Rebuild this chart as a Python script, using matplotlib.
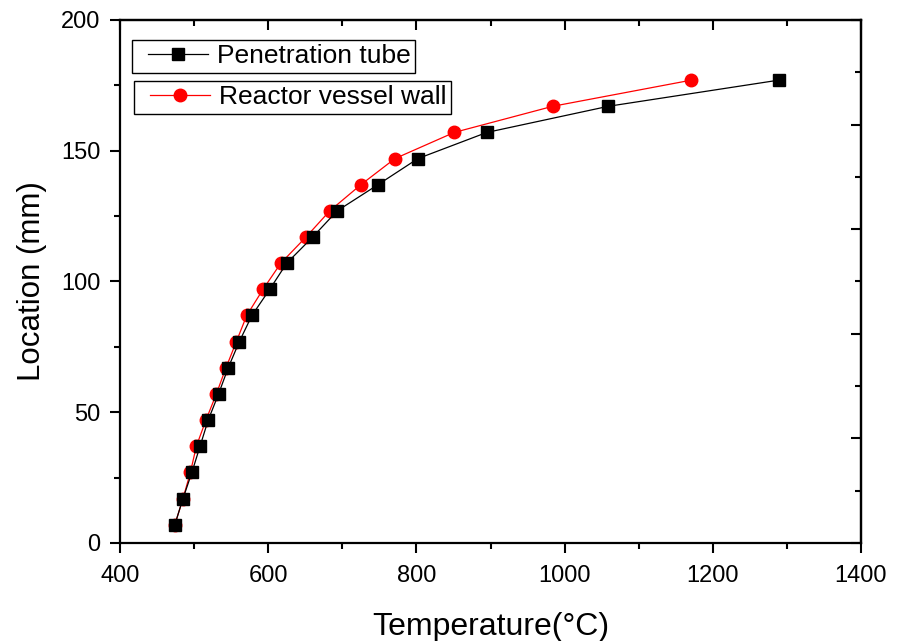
import numpy as np
import matplotlib.pyplot as plt
from matplotlib.ticker import MultipleLocator, NullFormatter
from matplotlib.legend_handler import HandlerLine2D

plt.rcParams['font.family'] = ['Liberation Sans', 'DejaVu Sans']

# location along the tube (mm)
location = [7, 17, 27, 37, 47, 57, 67, 77, 87, 97, 107, 117, 127, 137, 147, 157, 167, 177]
# temperatures (degC)
temp_tube = [474, 485, 497, 508, 519, 533, 546, 561, 578, 602, 625, 660, 693, 748, 802, 895, 1059, 1289]
temp_wall = [474, 485, 495, 503, 516, 530, 543, 557, 571, 593, 617, 651, 683, 725, 771, 851, 984, 1171]

fig = plt.figure(figsize=(9.01, 6.41), dpi=100)
ax = fig.add_axes([0.1332, 0.1529, 0.8224, 0.8159])

l_wall, = ax.plot(temp_wall, location, color='red', lw=0.9, marker='o', ms=9,
                  mec='red', mfc='red', label='Reactor vessel wall', zorder=3)
l_tube, = ax.plot(temp_tube, location, color='black', lw=0.9, marker='s', ms=8,
                  mec='black', mfc='black', label='Penetration tube', zorder=4)

ax.set_xlim(400, 1400)
ax.set_ylim(0, 200)
ax.xaxis.set_major_locator(MultipleLocator(200))
ax.xaxis.set_minor_locator(MultipleLocator(100))
ax.yaxis.set_major_locator(MultipleLocator(50))
ax.yaxis.set_minor_locator(MultipleLocator(25))

for s in ax.spines.values():
    s.set_linewidth(1.6)

ax.tick_params(which='both', direction='out', width=1.5, labelsize=17)
ax.tick_params(which='major', length=7)
ax.tick_params(which='minor', length=4)
ax.tick_params(axis='x', which='both', pad=9)
ax.tick_params(axis='y', which='both', pad=7)

ax.set_xlabel('Temperature(°C)', fontsize=23, labelpad=18)
ax.set_ylabel('Location (mm)', fontsize=22.5, labelpad=10)

# top and right axes with inward ticks, no labels
top = ax.secondary_xaxis('top')
top.xaxis.set_major_locator(MultipleLocator(200))
top.xaxis.set_minor_locator(MultipleLocator(100))
top.xaxis.set_major_formatter(NullFormatter())
top.tick_params(which='both', direction='in', width=1.5)
top.tick_params(which='major', length=7)
top.tick_params(which='minor', length=4)

right = ax.secondary_yaxis('right')
right.yaxis.set_major_locator(MultipleLocator(40))
right.yaxis.set_minor_locator(MultipleLocator(20))
right.yaxis.set_major_formatter(NullFormatter())
right.tick_params(which='both', direction='in', width=1.5)
right.tick_params(which='major', length=7)
right.tick_params(which='minor', length=4)
for a in (top, right):
    for s in a.spines.values():
        s.set_linewidth(1.6)

# two separate legend boxes, as in the original
leg_kw = dict(fontsize=19, fancybox=False, framealpha=1, edgecolor='black',
              handlelength=2.71, handletextpad=0.34, borderpad=0.17,
              borderaxespad=0)
hmap = {l_tube: HandlerLine2D(xpad=0.436), l_wall: HandlerLine2D(xpad=0.436)}
leg1 = ax.legend(handles=[l_tube], loc='upper left', handler_map=hmap,
                 bbox_to_anchor=(0.0162, 0.9618), **leg_kw)
leg1.get_frame().set_linewidth(1.0)
ax.add_artist(leg1)
leg2 = ax.legend(handles=[l_wall], loc='upper left', handler_map=hmap,
                 bbox_to_anchor=(0.0189, 0.8834), **leg_kw)
leg2.get_frame().set_linewidth(1.0)

fig.savefig('out.png', dpi=100)
